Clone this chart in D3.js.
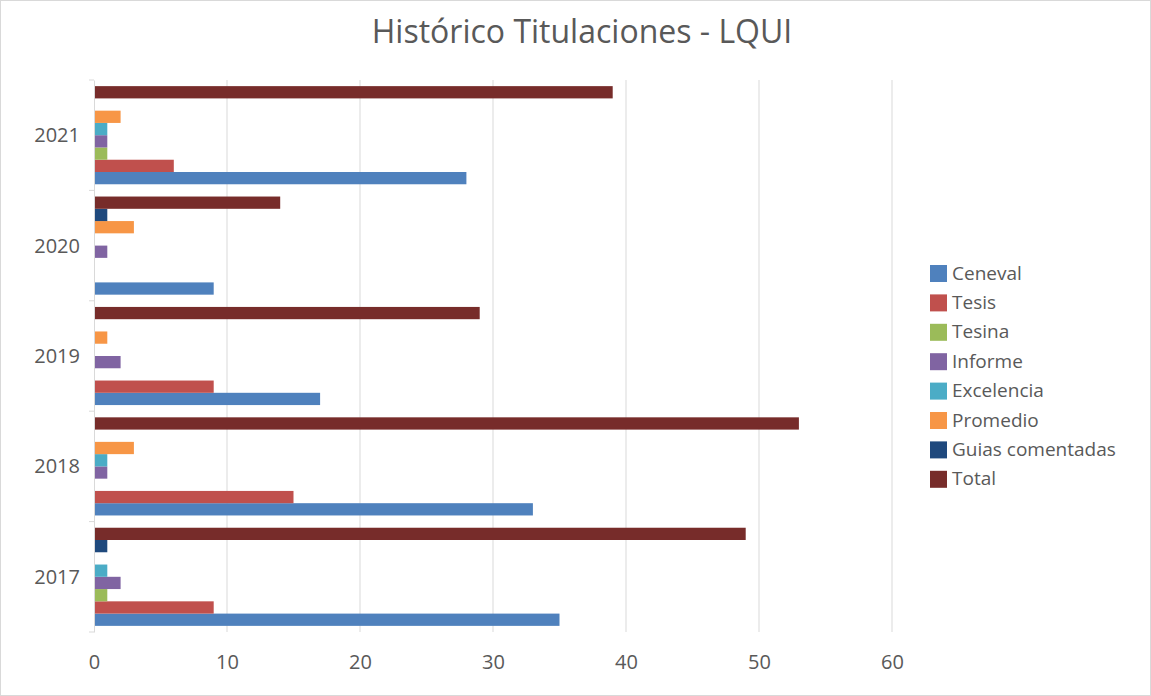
<!DOCTYPE html>
<html>
<head>
<meta charset="utf-8">
<script src="https://cdn.jsdelivr.net/npm/d3@7"></script>
<style>
  html, body { margin: 0; padding: 0; background: #fff; }
  svg { display: block; }
  text { font-family: "Open Sans", "Noto Sans", sans-serif; fill: #595959; }
</style>
</head>
<body>
<svg id="chart" width="1151" height="696"></svg>
<script>
const title = "Histórico Titulaciones - LQUI";
const categories = ["2017", "2018", "2019", "2020", "2021"];
const seriesNames = ["Ceneval", "Tesis", "Tesina", "Informe", "Excelencia", "Promedio", "Guias comentadas", "Total"];
const seriesColors = ["#4F81BD", "#C0504D", "#9BBB59", "#8064A2", "#4BACC6", "#F79646", "#1F497D", "#772C2A"];
const ceneval    = [35, 33, 17, 9, 28];
const tesis      = [9, 15, 9, 0, 6];
const tesina     = [1, 0, 0, 0, 1];
const informe    = [2, 1, 2, 1, 1];
const excelencia = [1, 1, 0, 0, 1];
const promedio   = [0, 3, 1, 3, 2];
const guias      = [1, 0, 0, 1, 0];
const total      = [49, 53, 29, 14, 39];
const xTicks = [0, 10, 20, 30, 40, 50, 60];

const seriesValues = [ceneval, tesis, tesina, informe, excelencia, promedio, guias, total];

const svg = d3.select("#chart");
const W = 1151, H = 696;

// outer border
svg.append("rect").attr("x", 0.5).attr("y", 0.5).attr("width", W - 1).attr("height", H - 1)
  .attr("fill", "#fff").attr("stroke", "#d9d9d9");

const plot = { left: 94, right: 892, top: 80, bottom: 632 };

const x = d3.scaleLinear().domain([0, 60]).range([plot.left, plot.right]);
const y = d3.scaleBand().domain(categories.slice().reverse())
  .range([plot.top, plot.bottom]).paddingInner(1 / 9).paddingOuter(1 / 18);
const yInner = d3.scaleBand().domain(seriesNames.slice().reverse())
  .range([0, y.bandwidth()]).padding(0);

// title
svg.append("text").attr("x", 582).attr("y", 43).attr("text-anchor", "middle")
  .style("font-size", "32px").text(title);

// gridlines
svg.append("g").selectAll("line").data(xTicks.filter(d => d > 0)).join("line")
  .attr("x1", d => x(d)).attr("x2", d => x(d))
  .attr("y1", plot.top).attr("y2", plot.bottom)
  .attr("stroke", "#d9d9d9").attr("stroke-width", 1);

// x axis labels
const xAxis = d3.axisBottom(x).tickValues(xTicks).tickSize(0).tickPadding(0);
const gx = svg.append("g").attr("transform", `translate(0,${plot.bottom + 30})`).call(xAxis);
gx.select(".domain").remove();
gx.selectAll("text").style("font-size", "20px").style("font-family", "'Open Sans', sans-serif")
  .attr("fill", "#595959").attr("dy", "0.35em");

// bars
const data = [];
categories.forEach((c, i) => {
  seriesNames.forEach((s, j) => {
    data.push({ cat: c, series: s, value: seriesValues[j][i], color: seriesColors[j] });
  });
});
svg.append("g").selectAll("rect").data(data).join("rect")
  .attr("x", x(0))
  .attr("y", d => y(d.cat) + yInner(d.series))
  .attr("width", d => x(d.value) - x(0))
  .attr("height", yInner.bandwidth())
  .attr("fill", d => d.color);

// y axis
const yAxis = d3.axisLeft(y).tickSize(0).tickPadding(14);
const gy = svg.append("g").attr("transform", `translate(${plot.left},0)`).call(yAxis);
gy.select(".domain").attr("stroke", "#d9d9d9");
gy.selectAll("text").style("font-size", "20px").style("font-family", "'Open Sans', sans-serif")
  .attr("fill", "#595959").attr("dy", "0.35em");
// category boundary tick marks
const bounds = categories.map((c) => y(c) - y.step() * y.paddingInner() / 2).concat([plot.bottom]);
svg.append("g").selectAll("line").data(bounds).join("line")
  .attr("x1", plot.left - 5).attr("x2", plot.left)
  .attr("y1", d => d).attr("y2", d => d)
  .attr("stroke", "#d9d9d9");

// legend
const legend = svg.append("g").attr("transform", "translate(930,273)");
const lg = legend.selectAll("g").data(seriesNames).join("g")
  .attr("transform", (d, i) => `translate(0,${i * 29.4})`);
lg.append("rect").attr("x", 0).attr("y", -8).attr("width", 17).attr("height", 17)
  .attr("fill", (d, i) => seriesColors[i]);
lg.append("text").attr("x", 22).attr("y", 0).attr("dy", "0.35em")
  .style("font-size", "19px").text(d => d);
</script>
</body>
</html>
